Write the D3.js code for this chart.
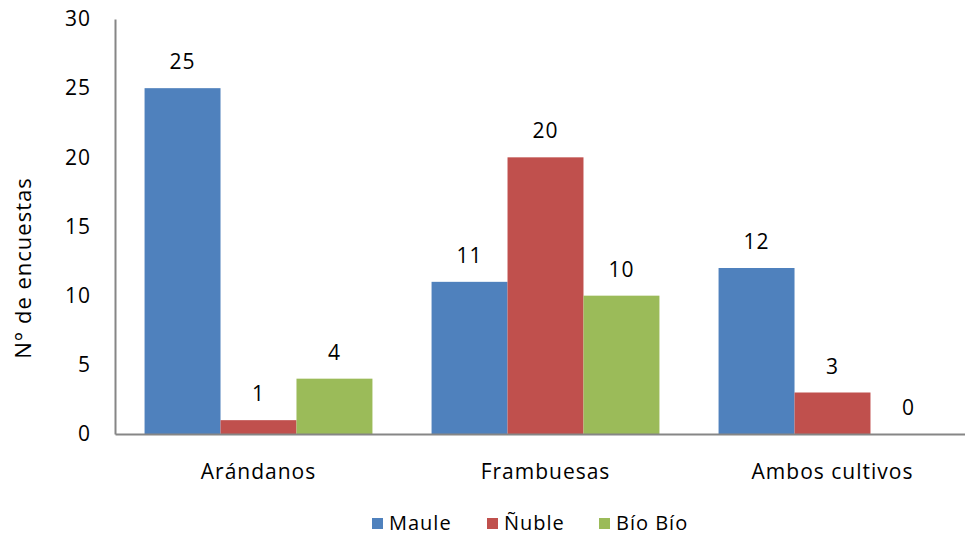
<!DOCTYPE html>
<html>
<head>
<meta charset="utf-8">
<script src="https://cdn.jsdelivr.net/npm/d3@7/dist/d3.min.js"></script>
<style>
  body { margin: 0; background: #fff; }
  svg { display: block; font-family: "Open Sans", sans-serif; letter-spacing: 1px; }
</style>
</head>
<body>
<div id="chart"></div>
<script>
// DATA
const categories = ["Arándanos", "Frambuesas", "Ambos cultivos"];
const seriesNames = ["Maule", "Ñuble", "Bío Bío"];
const maule = [25, 11, 12];
const nuble = [1, 20, 3];
const bioBio = [4, 10, 0];
const yTicks = [0, 5, 10, 15, 20, 25, 30];
const colors = ["#4F81BD", "#C0504D", "#9BBB59"];

const seriesValues = [maule, nuble, bioBio];

// SIZE
const svgWidth = 965;
const svgHeight = 538;
const plot = { left: 115, right: 976, top: 19, bottom: 434 };
const fontSize = 21;

const svg = d3.select("#chart")
  .append("svg")
  .attr("width", svgWidth)
  .attr("height", svgHeight);

// SCALES
const xScale = d3.scaleBand()
  .domain(categories)
  .range([plot.left, plot.right])
  .paddingInner(0.206)
  .paddingOuter(0.103);

const xInner = d3.scaleBand()
  .domain(seriesNames)
  .range([0, xScale.bandwidth()]);

const yScale = d3.scaleLinear()
  .domain([0, 30])
  .range([plot.bottom, plot.top]);

// BARS
seriesNames.forEach((name, s) => {
  const g = svg.append("g").attr("fill", colors[s]);
  g.selectAll("rect")
    .data(seriesValues[s])
    .enter()
    .append("rect")
    .attr("x", (d, i) => xScale(categories[i]) + xInner(name))
    .attr("y", d => yScale(d))
    .attr("width", xInner.bandwidth())
    .attr("height", d => yScale(0) - yScale(d));

  // value labels
  svg.append("g")
    .selectAll("text")
    .data(seriesValues[s])
    .enter()
    .append("text")
    .attr("x", (d, i) => xScale(categories[i]) + xInner(name) + xInner.bandwidth() / 2)
    .attr("y", d => yScale(d) - 19)
    .attr("text-anchor", "middle")
    .attr("font-size", fontSize)
    .attr("fill", "#000")
    .text(d => d);
});

// Y AXIS
const yAxis = d3.axisLeft(yScale).tickValues(yTicks).tickSize(0).tickPadding(24);
const gy = svg.append("g")
  .attr("transform", `translate(${plot.left},0)`)
  .call(yAxis);
gy.select(".domain").attr("stroke", "#868686").attr("stroke-width", 2);
gy.selectAll("text").attr("font-size", fontSize).attr("fill", "#000").attr("font-family", "'Open Sans', sans-serif");

// X AXIS
const xAxis = d3.axisBottom(xScale).tickSize(0).tickPadding(30);
const gx = svg.append("g")
  .attr("transform", `translate(0,${plot.bottom})`)
  .call(xAxis);
gx.select(".domain").attr("stroke", "#868686").attr("stroke-width", 2);
gx.selectAll("text").attr("font-size", fontSize).attr("fill", "#000").attr("font-family", "'Open Sans', sans-serif");

// Y TITLE
svg.append("text")
  .attr("transform", `translate(31,268) rotate(-90)`)
  .attr("text-anchor", "middle")
  .attr("font-size", 22)
  .attr("fill", "#000")
  .text("N° de encuestas");

// LEGEND
const legendX = [372, 487, 599];
const legend = svg.append("g");
seriesNames.forEach((name, i) => {
  legend.append("rect")
    .attr("x", legendX[i])
    .attr("y", 518)
    .attr("width", 11)
    .attr("height", 11)
    .attr("fill", colors[i]);
  legend.append("text")
    .attr("x", legendX[i] + 17)
    .attr("y", 530)
    .attr("font-size", 20)
    .attr("fill", "#000")
    .text(name);
});
</script>
</body>
</html>
